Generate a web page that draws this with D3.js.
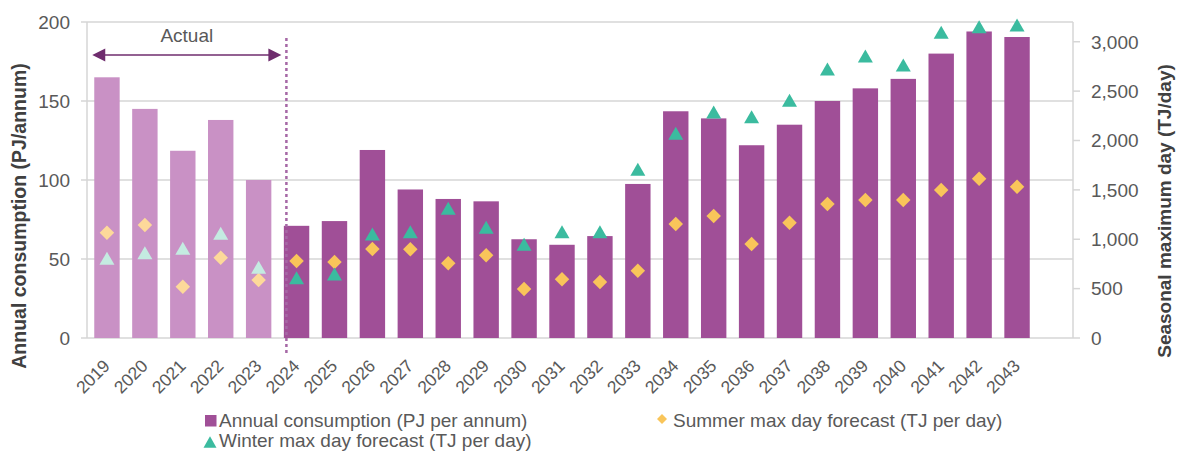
<!DOCTYPE html>
<html><head><meta charset="utf-8">
<script src="https://cdn.jsdelivr.net/npm/d3@7"></script>
<style>
body{margin:0;background:#fff;}
svg{display:block;font-family:"Liberation Sans",Arial,sans-serif;}
</style></head>
<body>
<svg id="chart" width="1182" height="452"></svg>
<script>
const years = ["2019","2020","2021","2022","2023","2024","2025","2026","2027","2028","2029","2030","2031","2032","2033","2034","2035","2036","2037","2038","2039","2040","2041","2042","2043"];
const actualYears = ["2019","2020","2021","2022","2023"];
const consumption = [165,145,118.5,138,100,71,74,119,94,88,86.5,62.5,59,64.5,97.5,143.5,139,122,135,150,158,164,180,194,190.5];
const winterMax = [807,864,908,1060,716,611,648,1053,1077,1313,1121,949,1077,1077,1708,2073,2289,2241,2407,2724,2856,2765,3096,3153,3170];
const summerMax = [1066,1144,520,813,587,780,770,901,898,756,837,496,594,567,682,1154,1235,952,1168,1357,1397,1397,1499,1613,1532];
const leftTicks = [0,50,100,150,200];
const rightTicks = [0,500,1000,1500,2000,2500,3000];
const legendLabels = ["Annual consumption (PJ per annum)","Winter max day forecast (TJ per day)","Summer max day forecast (TJ per day)"];

const svg = d3.select("#chart");
const plotL = 87, plotR = 1073, plotT = 22, plotB = 338;
const x = d3.scaleBand().domain(years).range([88, 1036]).paddingInner(0.33).paddingOuter(0.165);
const yL = d3.scaleLinear().domain([0,200]).range([plotB, plotT]);
const yR = d3.scaleLinear().domain([0,3200]).range([plotB, plotT]);
const grid = "#d6d6d6", txt = "#595959";
const isActual = d => actualYears.includes(d);

// gridlines
svg.append("g").selectAll("line").data(leftTicks).join("line")
  .attr("x1", plotL-6).attr("x2", plotR).attr("y1", d=>yL(d)).attr("y2", d=>yL(d))
  .attr("stroke", grid).attr("stroke-width", 1.5);
// axis lines
svg.append("line").attr("x1",plotL).attr("x2",plotL).attr("y1",plotT).attr("y2",plotB).attr("stroke",grid).attr("stroke-width",1.5);
svg.append("line").attr("x1",plotR).attr("x2",plotR).attr("y1",plotT).attr("y2",plotB).attr("stroke",grid).attr("stroke-width",1.5);
svg.append("g").selectAll("line").data(rightTicks).join("line")
  .attr("x1", plotR).attr("x2", plotR+7).attr("y1", d=>yR(d)).attr("y2", d=>yR(d))
  .attr("stroke", grid).attr("stroke-width", 1.5);

// left tick labels
svg.append("g").selectAll("text").data(leftTicks).join("text")
  .attr("x", 70).attr("y", d=>yL(d)).attr("dy","0.36em").attr("text-anchor","end")
  .attr("font-size", 19).attr("fill", txt).text(d=>d);
// right tick labels
svg.append("g").selectAll("text").data(rightTicks).join("text")
  .attr("x", 1091).attr("y", d=>yR(d)).attr("dy","0.36em").attr("text-anchor","start")
  .attr("font-size", 19).attr("fill", txt).text(d=>d3.format(",")(d));

// bars
svg.append("g").selectAll("rect").data(years).join("rect")
  .attr("x", d=>x(d)).attr("width", x.bandwidth())
  .attr("y", (d,i)=>yL(consumption[i])).attr("height", (d,i)=>yL(0)-yL(consumption[i]))
  .attr("fill", d=>isActual(d) ? "#c991c5" : "#a04f97");

// dashed divider
const divX = x("2024") + x.bandwidth()*0.1;
svg.append("line").attr("x1",divX).attr("x2",divX).attr("y1",38).attr("y2",356)
  .attr("stroke","#a668a6").attr("stroke-width",2.5).attr("stroke-dasharray","3,3");

// Actual arrow
const arrY = 55, aL = x("2019") - 2, aR = divX - 5;
svg.append("line").attr("x1",aL+10).attr("x2",aR-10).attr("y1",arrY).attr("y2",arrY).attr("stroke","#6f2d6e").attr("stroke-width",1.6);
svg.append("path").attr("d",`M${aL},${arrY} L${aL+13},${arrY-6.5} L${aL+13},${arrY+6.5} Z`).attr("fill","#6f2d6e");
svg.append("path").attr("d",`M${aR},${arrY} L${aR-13},${arrY-6.5} L${aR-13},${arrY+6.5} Z`).attr("fill","#6f2d6e");
svg.append("text").attr("x",(aL+aR)/2).attr("y",42).attr("text-anchor","middle").attr("font-size",19).attr("fill",txt).text("Actual");

// summer diamonds
const diamond = d3.symbol().type(d3.symbolSquare).size(105);
svg.append("g").selectAll("path").data(years).join("path")
  .attr("d", diamond)
  .attr("transform", (d,i)=>`translate(${x(d)+x.bandwidth()/2},${yR(summerMax[i])}) rotate(45)`)
  .attr("fill", d=>isActual(d) ? "#fdd99a" : "#f9c55a");
// winter triangles
const tri = (cx, cy, w, h) => `M${cx},${cy-h/2} L${cx+w/2},${cy+h/2} L${cx-w/2},${cy+h/2} Z`;
svg.append("g").selectAll("path").data(years).join("path")
  .attr("d", (d,i)=>tri(x(d)+x.bandwidth()/2, yR(winterMax[i]), 15, 13))
  .attr("fill", d=>isActual(d) ? "#c4ebe1" : "#3bbb9f");

// x labels
svg.append("g").selectAll("text").data(years).join("text")
  .attr("transform", d=>`translate(${x(d)+x.bandwidth()/2+4},367) rotate(-45)`)
  .attr("text-anchor","end").attr("font-size",17.5).attr("fill",txt).text(d=>d);

// axis titles
svg.append("text").attr("transform","translate(26,216) rotate(-90)").attr("text-anchor","middle")
  .attr("font-size",19.5).attr("font-weight","bold").attr("fill","#404040").text("Annual consumption (PJ/annum)");
svg.append("text").attr("transform","translate(1171,211) rotate(-90)").attr("text-anchor","middle")
  .attr("font-size",19).attr("font-weight","bold").attr("fill","#404040").text("Seasonal maximum day (TJ/day)");

// legend
const lg = svg.append("g");
lg.append("rect").attr("x",205).attr("y",415).attr("width",11.5).attr("height",11.5).attr("fill","#a04f97");
lg.append("text").attr("x",219).attr("y",427).attr("font-size",19).attr("fill",txt).text(legendLabels[0]);
lg.append("path").attr("d",tri(210,442,13,11.5)).attr("fill","#3bbb9f");
lg.append("text").attr("x",219).attr("y",447).attr("font-size",19).attr("fill",txt).text(legendLabels[1]);
lg.append("path").attr("d",d3.symbol().type(d3.symbolSquare).size(50)()).attr("transform","translate(662,419) rotate(45)").attr("fill","#f9c55a");
lg.append("text").attr("x",673).attr("y",427).attr("font-size",19).attr("fill",txt).text(legendLabels[2]);
</script>
</body></html>
